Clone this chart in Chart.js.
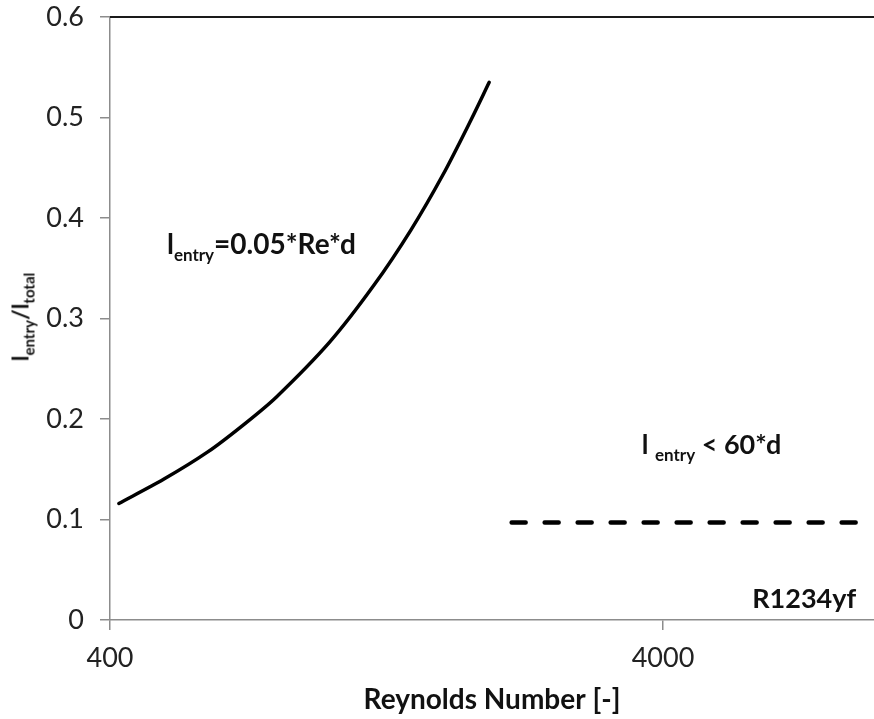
<!DOCTYPE html>
<html>
<head>
<meta charset="utf-8">
<script src="https://cdn.jsdelivr.net/npm/chart.js@4/dist/chart.umd.min.js"></script>
<style>
  body { margin: 0; background: #fff; }
  #wrap { position: relative; width: 874px; height: 719px; font-family: Lato, "Open Sans", sans-serif; color: #111; }
  .note { position: absolute; font-weight: bold; font-size: 27px; white-space: nowrap; transform: translateY(-50%); line-height: 1; }
  .note sub { font-size: 17px; line-height: 0; vertical-align: -7px; }
  #eqNote { font-size: 28px; }
  #ytitle sub { font-size: 15px; line-height: 0; vertical-align: -6px; }
  #ytitle { position: absolute; font-weight: bold; font-size: 23px; white-space: nowrap; line-height: 1; transform: translate(-50%, -50%) rotate(-90deg); }
</style>
</head>
<body>
<div id="wrap">
  <canvas id="chart"></canvas>
  <div id="eqNote" class="note">l<sub>entry</sub>=0.05*Re*d</div>
  <div id="limNote" class="note">l <sub>entry</sub> &lt; 60*d</div>
  <div id="fluidNote" class="note">R1234yf</div>
  <div id="ytitle">l<sub>entry</sub>/l<sub>total</sub></div>
</div>
<script>
// curve: l_entry/l_total vs Reynolds number
const reValues = [415, 500, 600, 700, 800, 1000, 1200, 1400, 1600, 1800, 1940];
const ratioValues = [0.116, 0.14, 0.167, 0.195, 0.222, 0.277, 0.333, 0.388, 0.443, 0.498, 0.535];

// dashed limit line (l_entry < 60*d)
const limitRe = [2130, 9630];
const limitRatio = [0.097, 0.097];

const xTickValues = [400, 4000];
const xRange = [400, 9630];
const yRange = [0, 0.6];

// text notes anchored in data coordinates (left edge, vertical centre)
const notes = [
  { id: 'eqNote', re: 507, v: 0.375 },
  { id: 'limNote', re: 3660, v: 0.176 },
  { id: 'fluidNote', re: 5800, v: 0.023 }
];

const axisGray = '#8c8c8c';
const tickFont = { family: 'Lato', size: 27 };

const overlay = {
  id: 'overlay',
  afterDraw(chart) {
    const { ctx, chartArea } = chart;
    // dark top frame line
    ctx.save();
    ctx.strokeStyle = '#1a1a1a';
    ctx.lineWidth = 2;
    ctx.beginPath();
    ctx.moveTo(chartArea.left, chartArea.top);
    ctx.lineTo(chartArea.right, chartArea.top);
    ctx.stroke();
    ctx.restore();

    const xs = chart.scales.x, ys = chart.scales.y;
    notes.forEach(n => {
      const el = document.getElementById(n.id);
      el.style.left = xs.getPixelForValue(n.re) + 'px';
      el.style.top = ys.getPixelForValue(n.v) + 'px';
    });
    const yt = document.getElementById('ytitle');
    yt.style.left = '20px';
    yt.style.top = ((chartArea.top + chartArea.bottom) / 2 - 2) + 'px';
  }
};

new Chart(document.getElementById('chart'), {
  type: 'line',
  data: {
    datasets: [
      {
        data: reValues.map((r, i) => ({ x: r, y: ratioValues[i] })),
        borderColor: '#000',
        borderWidth: 3.5,
        pointRadius: 0,
        tension: 0.3,
        borderCapStyle: 'round'
      },
      {
        data: limitRe.map((r, i) => ({ x: r, y: limitRatio[i] })),
        borderColor: '#000',
        borderWidth: 4.5,
        pointRadius: 0,
        borderDash: [14, 19],
        borderCapStyle: 'round'
      }
    ]
  },
  options: {
    responsive: true,
    maintainAspectRatio: false,
    animation: false,
    layout: { padding: { top: 17, right: 0, left: 0, bottom: 0 } },
    plugins: { legend: { display: false }, tooltip: { enabled: false } },
    scales: {
      x: {
        type: 'logarithmic',
        min: xRange[0],
        max: xRange[1],
        afterBuildTicks: s => { s.ticks = xTickValues.map(v => ({ value: v })); },
        afterFit: s => { s.height = 99; s.paddingLeft = 0; s.paddingRight = 0; },
        grid: { drawOnChartArea: false, color: axisGray, tickLength: 10, lineWidth: 1.5 },
        border: { color: axisGray, width: 1.5 },
        ticks: { font: tickFont, color: '#222', padding: 12, maxRotation: 0, autoSkip: false, callback: v => String(v) },
        title: {
          display: true,
          text: 'Reynolds Number [-]',
          font: { family: 'Lato', size: 28, weight: 'bold' },
          color: '#111',
          padding: { top: 0, bottom: 2 }
        }
      },
      y: {
        min: yRange[0],
        max: yRange[1],
        afterFit: s => { s.width = 110; s.paddingTop = 0; s.paddingBottom = 0; },
        grid: { drawOnChartArea: false, color: axisGray, tickLength: 10, lineWidth: 1.5 },
        border: { color: axisGray, width: 1.5 },
        ticks: { stepSize: 0.1, font: tickFont, color: '#222', padding: 16, callback: v => String(+v.toFixed(1)) }
      }
    }
  },
  plugins: [overlay]
});
</script>
</body>
</html>
